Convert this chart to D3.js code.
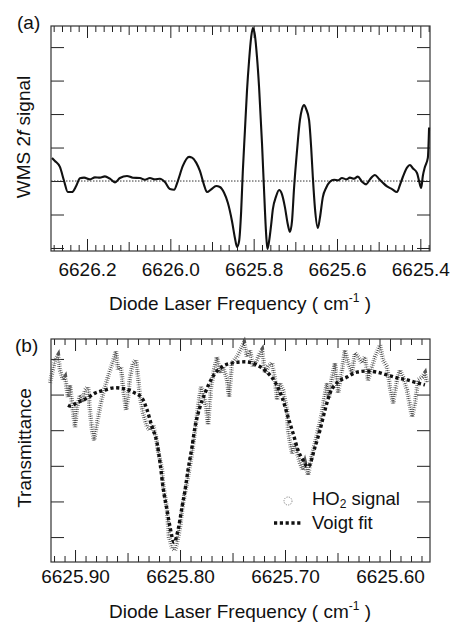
<!DOCTYPE html>
<html>
<head>
<meta charset="utf-8" />
<title>WMS 2f signal and HO2 transmittance</title>
<style>
  body { margin: 0; background: #fff; }
  svg { display: block; font-family: "Liberation Sans", Arial, sans-serif; }
  .frame { fill: none; stroke: #333; stroke-width: 1.2px; }
  .tick line { stroke: #222; stroke-width: 1px; }
  .tick text { font-size: 19px; fill: #111; font-family: "Liberation Sans", Arial, sans-serif; }
  .lbl { font-size: 19px; fill: #111; }
</style>
</head>
<body>
<svg id="chart" width="453" height="624"></svg>
<script src="https://d3js.org/d3.v7.min.js"></script>
<script>
// ---- panel (a): WMS 2f trace (arbitrary units, 0 = baseline) ----
var freqA = [6626.284, 6626.277, 6626.265, 6626.255, 6626.246, 6626.236, 6626.226, 6626.217, 6626.207, 6626.193,
  6626.181, 6626.169, 6626.157, 6626.145, 6626.133, 6626.121, 6626.104, 6626.090, 6626.073, 6626.061,
  6626.049, 6626.037, 6626.025, 6626.013, 6626.001, 6625.991, 6625.982, 6625.970, 6625.955, 6625.948,
  6625.938, 6625.929, 6625.919, 6625.912, 6625.902, 6625.890, 6625.881, 6625.871, 6625.862, 6625.852,
  6625.845, 6625.840, 6625.835, 6625.830, 6625.826, 6625.821, 6625.816, 6625.811, 6625.806, 6625.802,
  6625.797, 6625.792, 6625.787, 6625.780, 6625.775, 6625.770, 6625.767, 6625.763, 6625.758, 6625.754,
  6625.746, 6625.739, 6625.732, 6625.725, 6625.718, 6625.713, 6625.708, 6625.703, 6625.696, 6625.689,
  6625.684, 6625.679, 6625.674, 6625.667, 6625.662, 6625.658, 6625.653, 6625.646, 6625.641, 6625.634,
  6625.626, 6625.617, 6625.607, 6625.598, 6625.588, 6625.578, 6625.569, 6625.559, 6625.550, 6625.540,
  6625.530, 6625.521, 6625.509, 6625.499, 6625.490, 6625.480, 6625.468, 6625.456, 6625.449, 6625.442,
  6625.432, 6625.425, 6625.418, 6625.408, 6625.403, 6625.398, 6625.394, 6625.389, 6625.382, 6625.379];
var wmsA = [0.69, 0.60, 0.42, 0.00, -0.33, -0.33, -0.15, 0.08, 0.10, 0.05,
  0.11, 0.10, 0.14, 0.07, -0.04, 0.09, 0.15, 0.10, 0.09, 0.04,
  0.09, 0.05, 0.07, -0.03, -0.24, -0.26, 0.00, 0.45, 0.72, 0.70,
  0.55, 0.30, -0.12, -0.33, -0.25, -0.15, -0.18, -0.35, -0.65, -1.20,
  -1.70, -1.97, -1.80, -0.90, 0.30, 1.50, 2.70, 3.60, 4.30, 4.57,
  4.35, 3.70, 2.80, 1.13, -0.30, -1.60, -2.03, -1.80, -1.30, -0.85,
  -0.45, -0.27, -0.40, -0.78, -1.30, -1.52, -1.20, -0.20, 0.90, 1.82,
  2.15, 2.27, 2.15, 1.82, 1.00, 0.12, -0.80, -1.40, -1.10, -0.48,
  -0.20, -0.02, 0.04, 0.02, 0.09, 0.05, 0.10, 0.07, 0.13, -0.02,
  -0.10, 0.05, 0.18, 0.06, -0.05, -0.16, -0.24, -0.33, -0.12, 0.12,
  0.40, 0.48, 0.38, 0.24, 0.00, -0.21, 0.15, 0.42, 0.69, 1.60];
var tickLabelsA = [6626.2, 6626.0, 6625.8, 6625.6, 6625.4];
var yTicksA = [-2, -1, 0, 1, 2, 3, 4];

// ---- panel (b): HO2 transmittance signal and Voigt fit ----
var freqSig = [6625.9238, 6625.9219, 6625.9190, 6625.9162, 6625.9143, 6625.9114, 6625.9095, 6625.9067, 6625.9048, 6625.9029,
  6625.9000, 6625.8981, 6625.8952, 6625.8924, 6625.8905, 6625.8876, 6625.8857, 6625.8838, 6625.8819, 6625.8790,
  6625.8762, 6625.8733, 6625.8695, 6625.8667, 6625.8638, 6625.8610, 6625.8590, 6625.8562, 6625.8543, 6625.8514,
  6625.8495, 6625.8476, 6625.8448, 6625.8419, 6625.8400, 6625.8381, 6625.8352, 6625.8314, 6625.8286, 6625.8257,
  6625.8229, 6625.8210, 6625.8171, 6625.8162, 6625.8124, 6625.8105, 6625.8076, 6625.8048, 6625.8029, 6625.8000,
  6625.7971, 6625.7924, 6625.7886, 6625.7857, 6625.7829, 6625.7800, 6625.7781, 6625.7752, 6625.7733, 6625.7705,
  6625.7676, 6625.7648, 6625.7619, 6625.7590, 6625.7552, 6625.7533, 6625.7505, 6625.7457, 6625.7410, 6625.7390,
  6625.7362, 6625.7333, 6625.7305, 6625.7267, 6625.7238, 6625.7219, 6625.7190, 6625.7162, 6625.7124, 6625.7095,
  6625.7076, 6625.7048, 6625.7019, 6625.6981, 6625.6971, 6625.6952, 6625.6933, 6625.6905, 6625.6886, 6625.6857,
  6625.6829, 6625.6810, 6625.6781, 6625.6743, 6625.6714, 6625.6686, 6625.6648, 6625.6629, 6625.6600, 6625.6581,
  6625.6552, 6625.6524, 6625.6495, 6625.6457, 6625.6429, 6625.6400, 6625.6362, 6625.6333, 6625.6305, 6625.6267,
  6625.6238, 6625.6210, 6625.6171, 6625.6143, 6625.6095, 6625.6067, 6625.6029, 6625.6000, 6625.5971, 6625.5933,
  6625.5905, 6625.5876, 6625.5838, 6625.5790, 6625.5762, 6625.5733, 6625.5695, 6625.5667, 6625.5648];
var sigB = [5.33, 5.60, 5.97, 6.10, 5.69, 5.41, 5.49, 4.93, 5.27, 4.76,
  4.09, 4.65, 4.99, 4.79, 5.13, 5.21, 4.51, 4.00, 3.72, 4.20,
  4.65, 5.04, 5.41, 5.69, 5.92, 6.22, 5.69, 5.78, 5.21, 4.57,
  4.93, 5.49, 5.89, 5.97, 5.49, 4.93, 4.48, 4.09, 4.00, 4.15,
  3.81, 3.44, 2.88, 2.52, 1.76, 1.00, 0.69, 0.63, 0.83, 1.28,
  1.96, 2.69, 3.36, 4.00, 4.65, 5.21, 5.04, 4.65, 4.15, 5.21,
  5.69, 6.06, 5.60, 5.78, 5.41, 4.93, 5.89, 6.06, 6.34, 6.45,
  6.06, 6.25, 5.78, 5.97, 6.17, 6.25, 5.60, 5.78, 5.89, 5.41,
  4.85, 5.33, 5.13, 4.57, 4.00, 3.64, 3.36, 3.64, 3.36, 3.08,
  2.88, 3.08, 2.74, 3.30, 3.64, 4.00, 4.48, 4.85, 5.33, 4.93,
  5.49, 5.89, 5.04, 5.69, 6.25, 5.89, 5.60, 6.17, 6.06, 5.89,
  6.06, 5.41, 5.78, 6.06, 6.39, 5.97, 5.78, 5.21, 4.76, 5.41,
  5.69, 5.49, 5.13, 4.37, 4.76, 5.41, 5.49, 5.60, 5.33];
var freqFit = [6625.9067, 6625.9048, 6625.8971, 6625.8886, 6625.8810, 6625.8714, 6625.8619, 6625.8524, 6625.8448, 6625.8362,
  6625.8314, 6625.8267, 6625.8219, 6625.8190, 6625.8162, 6625.8124, 6625.8095, 6625.8057, 6625.8019, 6625.7981,
  6625.7952, 6625.7924, 6625.7886, 6625.7857, 6625.7810, 6625.7762, 6625.7695, 6625.7600, 6625.7495, 6625.7381,
  6625.7267, 6625.7171, 6625.7095, 6625.7029, 6625.6971, 6625.6924, 6625.6876, 6625.6829, 6625.6781, 6625.6714,
  6625.6667, 6625.6619, 6625.6571, 6625.6505, 6625.6410, 6625.6314, 6625.6219, 6625.6124, 6625.6029, 6625.5933,
  6625.5838, 6625.5743, 6625.5667];
var fitB = [4.70, 4.68, 4.79, 4.90, 5.04, 5.13, 5.19, 5.16, 5.07, 4.90,
  4.57, 4.09, 3.64, 3.08, 2.40, 1.76, 1.28, 0.85, 1.20, 1.84,
  2.32, 2.88, 3.53, 4.09, 4.65, 5.04, 5.47, 5.78, 5.89, 5.92,
  5.83, 5.63, 5.35, 4.93, 4.37, 3.92, 3.44, 3.16, 2.97, 3.53,
  4.00, 4.57, 5.04, 5.33, 5.49, 5.63, 5.66, 5.63, 5.55, 5.47,
  5.41, 5.33, 5.27];
var tickLabelsB = [6625.90, 6625.80, 6625.70, 6625.60];
var yTicksB = [1, 2, 3, 4, 5, 6];

var svg = d3.select("#chart");
var left = 51, right = 430;

function near(v, step) {
  return Math.abs(v / step - Math.round(v / step)) < 1e-6;
}

// draws frame + inward ticks for one panel
function drawFrame(x, y, top, bottom, majorStep, midStep, labels, fmt, yTicks, pad) {
  var all = x.ticks(50);
  var kinds = [
    { vals: all.filter(function(v) { return !near(v, midStep); }), len: 6 },
    { vals: all.filter(function(v) { return near(v, midStep) && !near(v, majorStep); }), len: 9 },
    { vals: all.filter(function(v) { return near(v, majorStep); }), len: 12 }
  ];
  kinds.forEach(function(k) {
    svg.append("g").attr("transform", "translate(0," + bottom + ")")
      .call(d3.axisBottom(x).tickValues(k.vals).tickSize(-k.len).tickFormat(""))
      .select(".domain").remove();
    svg.append("g").attr("transform", "translate(0," + top + ")")
      .call(d3.axisTop(x).tickValues(k.vals).tickSize(-k.len).tickFormat(""))
      .select(".domain").remove();
  });
  svg.append("g").attr("transform", "translate(0," + bottom + ")")
    .call(d3.axisBottom(x).tickValues(labels).tickSize(0).tickPadding(pad).tickFormat(d3.format(fmt)))
    .select(".domain").remove();
  svg.append("g").attr("transform", "translate(" + left + ",0)")
    .call(d3.axisLeft(y).tickValues(yTicks).tickSize(-13).tickFormat(""))
    .select(".domain").remove();
  svg.append("g").attr("transform", "translate(" + right + ",0)")
    .call(d3.axisRight(y).tickValues(yTicks).tickSize(-13).tickFormat(""))
    .select(".domain").remove();
  svg.append("rect").attr("class", "frame")
    .attr("x", left).attr("y", top)
    .attr("width", right - left).attr("height", bottom - top);
}

function xLabel(yPos) {
  var t = svg.append("text").attr("class", "lbl")
    .attr("x", 240).attr("y", yPos).attr("text-anchor", "middle");
  t.append("tspan").text("Diode Laser Frequency ( cm");
  t.append("tspan").attr("dy", -8).attr("font-size", 12).text("-1");
  t.append("tspan").attr("dy", 8).text(" )");
}

// ---------------- panel (a) ----------------
var topA = 26, botA = 251;
var xA = d3.scaleLinear().domain([6626.2864, 6625.3768]).range([left, right]);
var yA = d3.scaleLinear().domain([-2.09, 4.63]).range([botA, topA]);

drawFrame(xA, yA, topA, botA, 0.2, 0.1, tickLabelsA, ".1f", yTicksA, 12);

svg.append("line")
  .attr("x1", left).attr("x2", right)
  .attr("y1", yA(0)).attr("y2", yA(0))
  .attr("stroke", "#333").attr("stroke-width", 1)
  .attr("stroke-dasharray", "1.5,1.5");

var lineA = d3.line()
  .curve(d3.curveMonotoneX)
  .x(function(d) { return xA(d[0]); })
  .y(function(d) { return yA(d[1]); });

svg.append("path")
  .datum(d3.zip(freqA, wmsA))
  .attr("fill", "none")
  .attr("stroke", "#111")
  .attr("stroke-width", 2.1)
  .attr("stroke-linejoin", "round")
  .attr("d", lineA);

svg.append("text").attr("class", "lbl").attr("x", 17).attr("y", 29).text("(a)");
var yl = svg.append("text").attr("class", "lbl")
  .attr("transform", "translate(30,137) rotate(-90)")
  .attr("text-anchor", "middle");
yl.append("tspan").text("WMS 2");
yl.append("tspan").attr("font-style", "italic").text("f");
yl.append("tspan").text("  signal");
xLabel(310);

// ---------------- panel (b) ----------------
var topB = 339, botB = 562;
var xB = d3.scaleLinear().domain([6625.9229, 6625.5619]).range([left, right]);
var yB = d3.scaleLinear().domain([0.30, 6.56]).range([botB, topB]);

drawFrame(xB, yB, topB, botB, 0.1, 0.05, tickLabelsB, ".2f", yTicksB, 8);

var lineB = d3.line()
  .x(function(d) { return xB(d[0]); })
  .y(function(d) { return yB(d[1]); });

// noisy measured signal: a wide dashed stroke gives the hatched band of dots
svg.append("path")
  .datum(d3.zip(freqSig, sigB))
  .attr("fill", "none")
  .attr("stroke", "#555")
  .attr("stroke-width", 4.5)
  .attr("stroke-dasharray", "0.6,1.6")
  .attr("d", lineB);
svg.append("path")
  .datum(d3.zip(freqSig, sigB))
  .attr("fill", "none")
  .attr("stroke", "#333")
  .attr("stroke-width", 0.9)
  .attr("stroke-dasharray", "1,1.2")
  .attr("d", lineB);

// Voigt fit, heavy square dots
svg.append("path")
  .datum(d3.zip(freqFit, fitB))
  .attr("fill", "none")
  .attr("stroke", "#111")
  .attr("stroke-width", 3.4)
  .attr("stroke-dasharray", "3.2,2.6")
  .attr("d", lineB.curve(d3.curveMonotoneX));

svg.append("text").attr("class", "lbl").attr("x", 15).attr("y", 352).text("(b)");
svg.append("text").attr("class", "lbl")
  .attr("transform", "translate(31,448) rotate(-90)")
  .attr("text-anchor", "middle")
  .text("Transmittance");
xLabel(618);

// legend
svg.append("circle")
  .attr("cx", 288).attr("cy", 501).attr("r", 4)
  .attr("fill", "none").attr("stroke", "#777")
  .attr("stroke-width", 0.9).attr("stroke-dasharray", "1.2,1.2");
var lg = svg.append("text").attr("class", "lbl").attr("x", 312).attr("y", 505)
  .style("font-size", "18.5px");
lg.append("tspan").text("HO");
lg.append("tspan").attr("dy", 3).attr("font-size", 12).text("2");
lg.append("tspan").attr("dy", -3).text(" signal");
svg.append("line")
  .attr("x1", 274).attr("x2", 303).attr("y1", 523).attr("y2", 523)
  .attr("stroke", "#111").attr("stroke-width", 3.4)
  .attr("stroke-dasharray", "3.2,2.6");
svg.append("text").attr("class", "lbl").attr("x", 312).attr("y", 529)
  .style("font-size", "18.5px").text("Voigt fit");
</script>
</body>
</html>
